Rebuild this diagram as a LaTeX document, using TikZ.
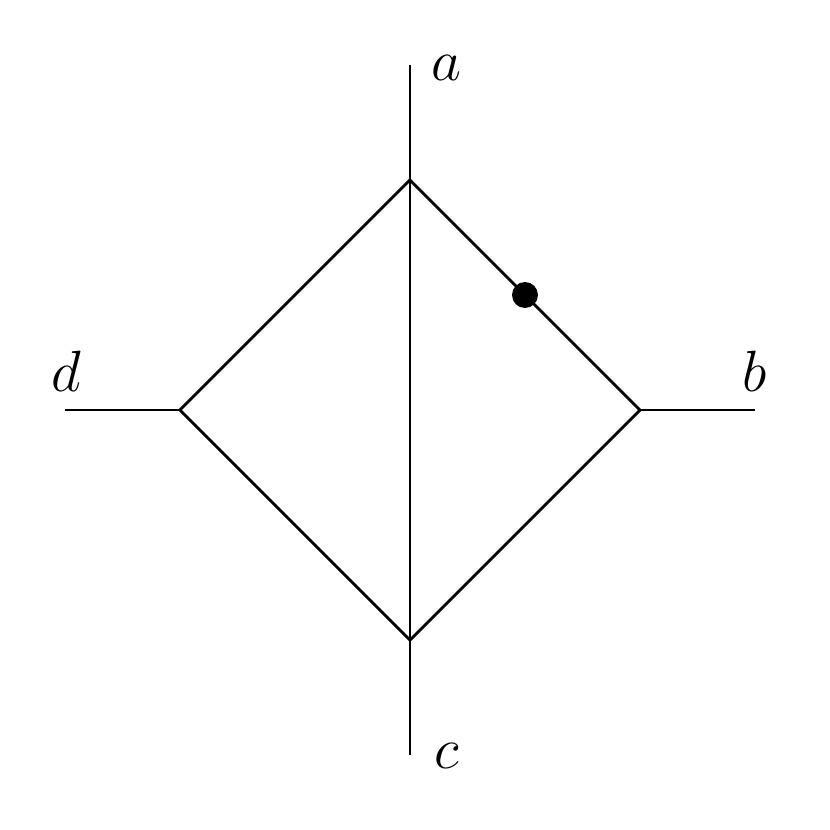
\documentclass[tikz,border=0pt]{standalone}
\usetikzlibrary{calc,positioning}

\begin{document}
\begin{tikzpicture}[line width=0.7pt,
  lbl/.style={font=\fontsize{15}{18}\selectfont},
  vtx/.style={circle,fill=black,inner sep=0pt,minimum size=0.226cm}]

  \useasboundingbox (-3.565,-3.652) rectangle (3.652,3.565);

  % diamond corners
  \coordinate (top) at (0,2);
  \coordinate (bot) at (0,-2);
  \coordinate (lft) at (-2,0);
  \coordinate (rgt) at (2,0);

  % external legs
  \coordinate (aend) at (0,3);
  \coordinate (cend) at (0,-3);
  \coordinate (dend) at (-3,0);
  \coordinate (bend) at (3,0);

  \draw (top) -- (rgt) -- (bot) -- (lft) -- cycle;
  \draw (top) -- (bot);
  \draw (aend) -- (top);
  \draw (cend) -- (bot);
  \draw (dend) -- (lft);
  \draw (bend) -- (rgt);

  \node[vtx] (dot) at ($(top)!0.5!(rgt)$) {};

  \node[lbl] (la) at (0.32,2.97) {$a$};
  \node[lbl] (lb) at (3.0,0.34) {$b$};
  \node[lbl] (lc) at (0.32,-3.01) {$c$};
  \node[lbl] (ld) at (-2.99,0.34) {$d$};

\end{tikzpicture}
\end{document}
